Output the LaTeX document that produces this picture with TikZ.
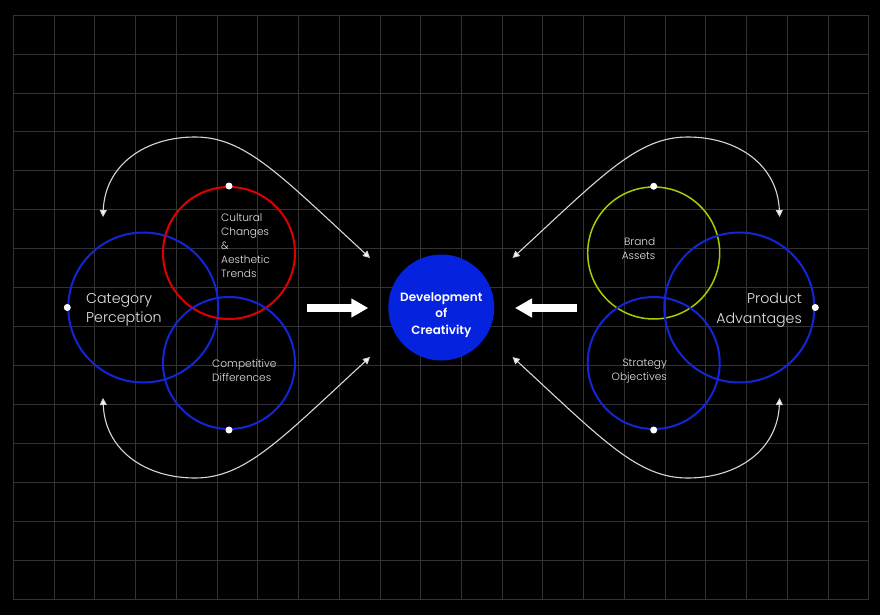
\documentclass[tikz,border=0pt]{standalone}
\usepackage{fontspec}
\setmainfont{Poppins}[UprightFont={* Light},BoldFont={* SemiBold}]
\usetikzlibrary{arrows.meta}
\definecolor{cblue}{RGB}{18,38,215}
\definecolor{cred}{RGB}{222,0,0}
\definecolor{clime}{RGB}{165,205,0}
\definecolor{cfill}{RGB}{5,35,222}
\definecolor{cgrid}{RGB}{50,50,50}
\definecolor{ctext}{RGB}{228,228,228}
\definecolor{ccurve}{RGB}{215,215,215}
\begin{document}
\begin{tikzpicture}[x=1pt,y=-1pt,
  ring/.style={circle,draw,line width=2pt,inner sep=0pt,minimum size=#1},
  wdot/.style={circle,fill=white,inner sep=0pt,minimum size=7pt},
  lbl/.style={text=ctext,inner sep=0pt},
  bigl/.style={lbl,font=\fontsize{14.2}{19.5}\selectfont},
  smalll/.style={lbl,font=\fontsize{10.6}{14}\selectfont},
  curve/.style={draw=ccurve,line width=1.1pt,
    {Triangle[length=7pt,width=7pt,fill=white]}-{Triangle[length=7pt,width=7pt,fill=white]}},
  fat/.style={draw=white,line width=8pt,-{Triangle[length=17pt,width=18pt,fill=white]}}]
\fill[black] (0,0) rectangle (880,615);
\useasboundingbox (0,0) rectangle (880,615);
% grid
\foreach \i in {0,...,21}
  \draw[cgrid,line width=0.8pt] (13.3+\i*40.733,15) -- (13.3+\i*40.733,599.3);
\foreach \j in {0,...,15}
  \draw[cgrid,line width=0.8pt] (13.3,15+\j*38.953) -- (868.7,15+\j*38.953);
% circles
\node[ring=150pt,draw=cblue] (cp) at (143.3,307.5) {};
\node[ring=132pt,draw=cred] (cc) at (229,253) {};
\node[ring=132pt,draw=cblue] (cd) at (229,363) {};
\node[ring=132pt,draw=clime,line width=1.5pt] (ba) at (653.7,253) {};
\node[ring=132pt,draw=cblue] (so) at (653.7,363) {};
\node[ring=150pt,draw=cblue] (pa) at (739.3,307.5) {};
\node[circle,fill=cfill,minimum size=106pt,inner sep=0pt] (dc) at (441.3,307.5) {};
% dots
\node[wdot] (d1) at (cc.north) {};
\node[wdot] (d2) at (cd.south) {};
\node[wdot] (d3) at (cp.west) {};
\node[wdot] (d4) at (ba.north) {};
\node[wdot] (d5) at (so.south) {};
\node[wdot] (d6) at (pa.east) {};
% labels
\node[bigl,anchor=west,align=left] (tcp) at (86,310) {Category\\Perception};
\node[smalll,anchor=west,align=left] (tcc) at (221,246) {Cultural\\Changes\\\&\\Aesthetic\\Trends};
\node[smalll,anchor=west,align=left] (tcd) at (212,370.8) {Competitive\\Differences};
\node[smalll,anchor=east,align=right] (tba) at (655.5,248.5) {Brand\\Assets};
\node[smalll,anchor=east,align=right] (tso) at (667,371.5) {Strategy\\Objectives};
\node[bigl,anchor=east,align=right] (tpa) at (802,310) {Product\\Advantages};
\node[text=white,inner sep=0pt,align=center,font=\fontsize{12}{16.3}\selectfont\bfseries] (tdc) at (441.3,315) {Development\\of\\Creativity};
% curved arrows
\coordinate (a1) at (103,217);
\coordinate (a2) at (370,258);
\coordinate (b1) at (779.6,217);
\coordinate (b2) at (512.6,258);
\coordinate (c1) at (103,398);
\coordinate (c2) at (370,357);
\coordinate (e1) at (779.6,398);
\coordinate (e2) at (512.6,357);
\draw[curve] (a1) .. controls (105,165) and (145,137) .. (195,137) .. controls (245,137) and (280,175) .. (a2);
\draw[curve] (b1) .. controls (777.6,165) and (737.6,137) .. (687.6,137) .. controls (637.6,137) and (602.6,175) .. (b2);
\draw[curve] (c1) .. controls (105,450) and (145,478) .. (195,478) .. controls (245,478) and (280,440) .. (c2);
\draw[curve] (e1) .. controls (777.6,450) and (737.6,478) .. (687.6,478) .. controls (637.6,478) and (602.6,440) .. (e2);
% fat arrows
\coordinate (f1) at (306.7,308);
\coordinate (f2) at (368.3,308);
\coordinate (g1) at (577.3,308);
\coordinate (g2) at (515,308);
\draw[fat] (f1) -- (f2);
\draw[fat] (g1) -- (g2);
\end{tikzpicture}
\end{document}
